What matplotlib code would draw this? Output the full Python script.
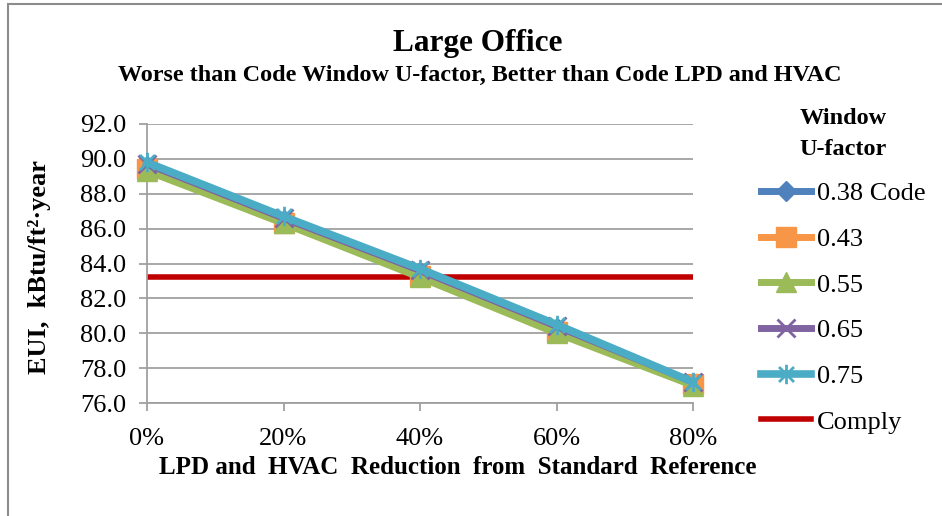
import matplotlib.pyplot as plt
from matplotlib.path import Path
from matplotlib.patches import Rectangle

plt.rcParams['font.family'] = ['Liberation Serif', 'DejaVu Serif']

# Data
reduction = [0, 20, 40, 60, 80]
x_labels = ['0%', '20%', '40%', '60%', '80%']
series_names = ['0.38 Code', '0.43', '0.55', '0.65', '0.75']
eui_038 = [89.6, 86.5, 83.5, 80.3, 77.1]
eui_043 = [89.4, 86.3, 83.3, 80.1, 77.1]
eui_055 = [89.3, 86.3, 83.2, 80.0, 77.0]
eui_065 = [89.7, 86.6, 83.6, 80.4, 77.2]
eui_075 = [89.8, 86.7, 83.7, 80.5, 77.2]
comply = [83.2, 83.2, 83.2, 83.2, 83.2]

# Excel-style asterisk marker (x plus vertical bar)
star = Path([(-1, -1), (1, 1), (-1, 1), (1, -1), (0, -1.3), (0, 1.3)],
            [Path.MOVETO, Path.LINETO, Path.MOVETO, Path.LINETO, Path.MOVETO, Path.LINETO])

fig = plt.figure(figsize=(9.42, 5.16), dpi=100)
ax = fig.add_axes([147 / 942, 1 - 403 / 516, 546 / 942, 279 / 516])

ax.plot(reduction, comply, color='#C00000', lw=4, label='Comply', zorder=2)
ax.plot(reduction, eui_038, color='#4F81BD', lw=5, marker='D', ms=10, label=series_names[0], zorder=3, clip_on=False)
ax.plot(reduction, eui_043, color='#F79646', lw=5, marker='s', ms=14, label=series_names[1], zorder=3, clip_on=False)
ax.plot(reduction, eui_055, color='#9BBB59', lw=5, marker='^', ms=14, label=series_names[2], zorder=3, clip_on=False)
ax.plot(reduction, eui_065, color='#8064A2', lw=5, marker='x', ms=13, mew=2, label=series_names[3], zorder=3,
        clip_on=False)
ax.plot(reduction, eui_075, color='#4BACC6', lw=5.5, marker=star, ms=14, mew=2, fillstyle='none',
        label=series_names[4], zorder=3, clip_on=False)

ax.set_xlim(0, 80)
ax.set_ylim(76, 92)
ax.set_xticks(reduction)
ax.set_xticklabels(x_labels)
ax.set_yticks(range(76, 93, 2))
ax.set_yticklabels([f'{v:.1f}' for v in range(76, 93, 2)])
ax.grid(axis='y', color='#A0A0A0', lw=1.3)
ax.set_axisbelow(True)
for s in ['top', 'right']:
    ax.spines[s].set_visible(False)
for s in ['left', 'bottom']:
    ax.spines[s].set_color('#A0A0A0')
    ax.spines[s].set_linewidth(1.3)
ax.tick_params(axis='both', colors='#A0A0A0', labelcolor='black', labelsize=19, length=6, width=1.3)
ax.tick_params(axis='y', pad=9)
ax.tick_params(axis='x', pad=12)

fig.text(478 / 942, 1 - 44 / 516, 'Large Office', ha='center', va='center', fontsize=22.5, fontweight='bold')
fig.text(480 / 942, 1 - 75 / 516, 'Worse than Code Window U-factor, Better than Code LPD and HVAC',
         ha='center', va='center', fontsize=17.4, fontweight='bold')
fig.text(458 / 942, 1 - 467 / 516, 'LPD and  HVAC  Reduction  from  Standard  Reference',
         ha='center', va='center', fontsize=18, fontweight='bold')
fig.text(40 / 942, 1 - 267 / 516, 'EUI,  kBtu/ft²·year', ha='center', va='center',
         rotation=90, fontsize=19, fontweight='bold')

handles, labels = ax.get_legend_handles_labels()
order = [1, 2, 3, 4, 5, 0]
leg = fig.legend([handles[i] for i in order], [labels[i] for i in order],
                 loc='upper left', bbox_to_anchor=(748 / 942, 1 - 95 / 516), frameon=False,
                 fontsize=19, title='Window\nU-factor', title_fontproperties={'weight': 'bold', 'size': 17.5},
                 handlelength=1.9, handletextpad=0.2, labelspacing=0.84, borderpad=0)
leg.get_title().set_linespacing(1.6)

# outer chart frame (only left and top edges are visible)
fig.patches.append(Rectangle((8 / 942, -0.2), 1.5, 1.2 - 4 / 516, transform=fig.transFigure,
                             fill=False, edgecolor='#8C8C8C', lw=1.5))

fig.savefig('out.png', dpi=100)
